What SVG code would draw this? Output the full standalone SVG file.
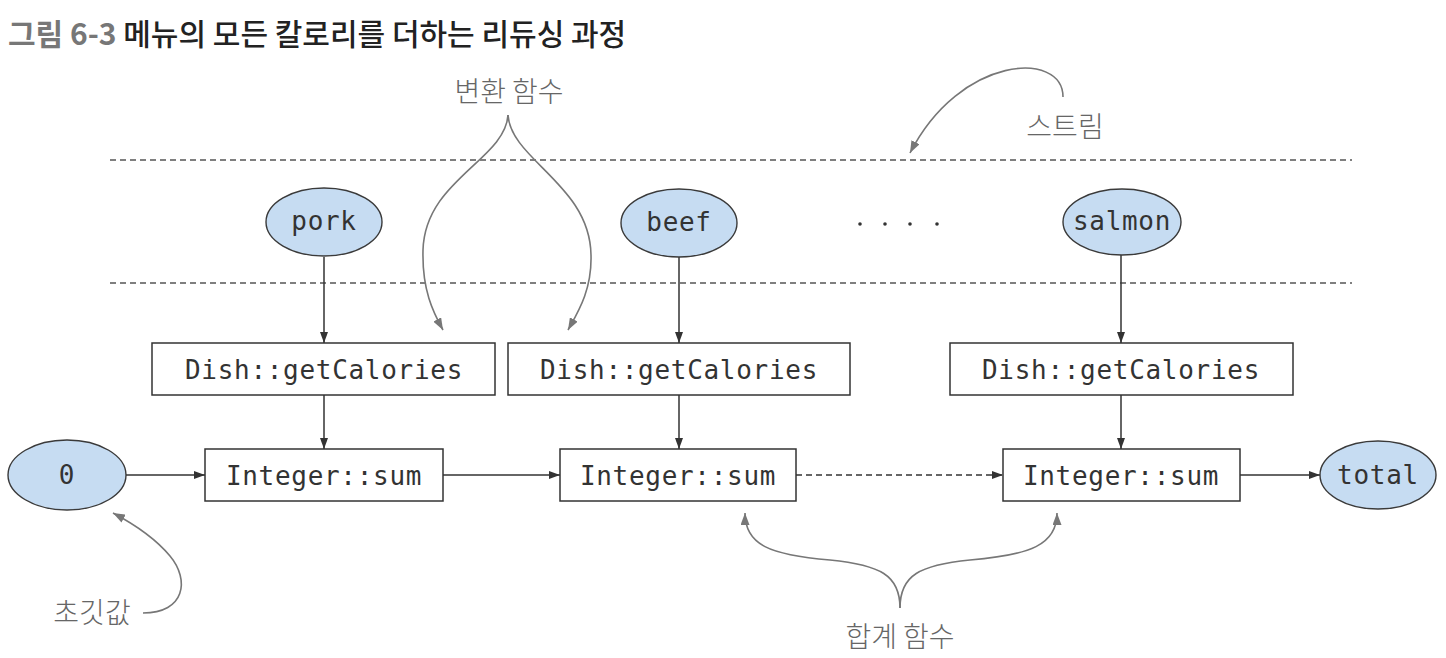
<svg xmlns="http://www.w3.org/2000/svg" width="1446" height="658" viewBox="0 0 1446 658">
<style>
.kr{font-family:"Noto Sans CJK KR","Noto Sans",sans-serif;}
.ann{font-family:"Noto Sans CJK KR","Noto Sans",sans-serif;font-size:28px;font-weight:300;fill:#666;text-anchor:middle;}
.mono{font-family:"DejaVu Sans Mono","Liberation Mono",monospace;font-size:26px;fill:#333;text-anchor:middle;letter-spacing:0.7px;}
.ell{fill:#c6dcf2;stroke:#3a3a3a;stroke-width:1.4;}
.box{fill:#fff;stroke:#333;stroke-width:1.5;}
.conn{fill:none;stroke:#333;stroke-width:1.5;}
.dash{fill:none;stroke:#555;stroke-width:1.4;stroke-dasharray:6 4;}
.curve{fill:none;stroke:#777;stroke-width:1.6;}
</style>
<defs>
<marker id="ah" markerUnits="userSpaceOnUse" markerWidth="11" markerHeight="8" refX="11" refY="4" orient="auto"><path d="M0,0 L11,4 L0,8 z" fill="#333"/></marker>
<marker id="ag" markerUnits="userSpaceOnUse" markerWidth="12" markerHeight="9" refX="12" refY="4.5" orient="auto"><path d="M0,0 L12,4.5 L0,9 z" fill="#777"/></marker>
</defs>
<rect width="1446" height="658" fill="#fff"/>
<text x="8" y="45" class="kr" font-size="30"><tspan fill="#777" font-weight="bold">그림 6-3</tspan><tspan fill="#222" font-weight="500"> 메뉴의 모든 칼로리를 더하는 리듀싱 과정</tspan></text>
<g id="stream-lines">
<line x1="110" y1="160" x2="1352" y2="160" class="dash"/>
<line x1="110" y1="283" x2="1352" y2="283" class="dash"/>
</g>
<g id="connectors">
<line x1="324" y1="257" x2="324" y2="343" class="conn" marker-end="url(#ah)"/>
<line x1="679" y1="257" x2="679" y2="343" class="conn" marker-end="url(#ah)"/>
<line x1="1121" y1="255" x2="1121" y2="343" class="conn" marker-end="url(#ah)"/>
<line x1="324" y1="395" x2="324" y2="449" class="conn" marker-end="url(#ah)"/>
<line x1="679" y1="395" x2="679" y2="449" class="conn" marker-end="url(#ah)"/>
<line x1="1121" y1="395" x2="1121" y2="449" class="conn" marker-end="url(#ah)"/>
<line x1="126" y1="475" x2="205" y2="475" class="conn" marker-end="url(#ah)"/>
<line x1="443" y1="475" x2="560" y2="475" class="conn" marker-end="url(#ah)"/>
<line x1="796" y1="475" x2="1003" y2="475" class="conn" stroke-dasharray="6 4" marker-end="url(#ah)"/>
<line x1="1240" y1="475" x2="1320" y2="475" class="conn" marker-end="url(#ah)"/>
</g>
<g id="pork"><ellipse cx="324" cy="222" rx="58" ry="34" class="ell"/><text x="324" y="230" class="mono" fill="#2a3545">pork</text></g>
<g id="beef"><ellipse cx="679" cy="223" rx="58" ry="34" class="ell"/><text x="679" y="231" class="mono">beef</text></g>
<g id="dots" fill="#333"><circle cx="860" cy="224" r="1.8"/><circle cx="885" cy="224" r="1.8"/><circle cx="910" cy="224" r="1.8"/><circle cx="937" cy="224" r="1.8"/></g>
<g id="salmon"><ellipse cx="1122" cy="222" rx="59" ry="33" class="ell"/><text x="1122" y="230" class="mono">salmon</text></g>
<g id="dish1"><rect x="152" y="343" width="343" height="52" class="box"/><text x="324" y="379" class="mono">Dish::getCalories</text></g>
<g id="dish2"><rect x="508" y="343" width="342" height="52" class="box"/><text x="679" y="379" class="mono">Dish::getCalories</text></g>
<g id="dish3"><rect x="950" y="343" width="343" height="52" class="box"/><text x="1121" y="379" class="mono">Dish::getCalories</text></g>
<g id="zero"><ellipse cx="67" cy="475" rx="59" ry="35" class="ell"/><text x="67" y="484" class="mono">0</text></g>
<g id="sum1"><rect x="205" y="449" width="238" height="52" class="box"/><text x="324" y="485" class="mono">Integer::sum</text></g>
<g id="sum2"><rect x="560" y="449" width="236" height="52" class="box"/><text x="678" y="485" class="mono">Integer::sum</text></g>
<g id="sum3"><rect x="1003" y="449" width="237" height="52" class="box"/><text x="1121" y="485" class="mono">Integer::sum</text></g>
<g id="total"><ellipse cx="1378" cy="475" rx="58" ry="34" class="ell"/><text x="1378" y="484" class="mono">total</text></g>
<g id="ann-transform">
<text x="509" y="102" class="ann">변환 함수</text>
<path d="M508,115 C505,160 425,180 423,250 C422,290 433,312 443,330" class="curve" marker-end="url(#ag)"/>
<path d="M508,115 C511,160 590,185 591,255 C592,290 578,312 568,330" class="curve" marker-end="url(#ag)"/>
</g>
<g id="ann-stream">
<text x="1065" y="137" class="ann">스트림</text>
<path d="M1063,97 C1063,50 960,55 910,153" class="curve" marker-end="url(#ag)"/>
</g>
<g id="ann-init">
<text x="92" y="623" class="ann">초깃값</text>
<path d="M143,613 C185,613 190,580 170,556 C155,538 130,522 113,513" class="curve" marker-end="url(#ag)"/>
</g>
<g id="ann-sum">
<text x="900" y="647" class="ann">합계 함수</text>
<path d="M900,608 C900,575 880,565 830,560 C770,555 745,545 745,513" class="curve" marker-end="url(#ag)"/>
<path d="M900,608 C900,575 920,565 970,560 C1030,555 1057,545 1057,513" class="curve" marker-end="url(#ag)"/>
</g>
</svg>
